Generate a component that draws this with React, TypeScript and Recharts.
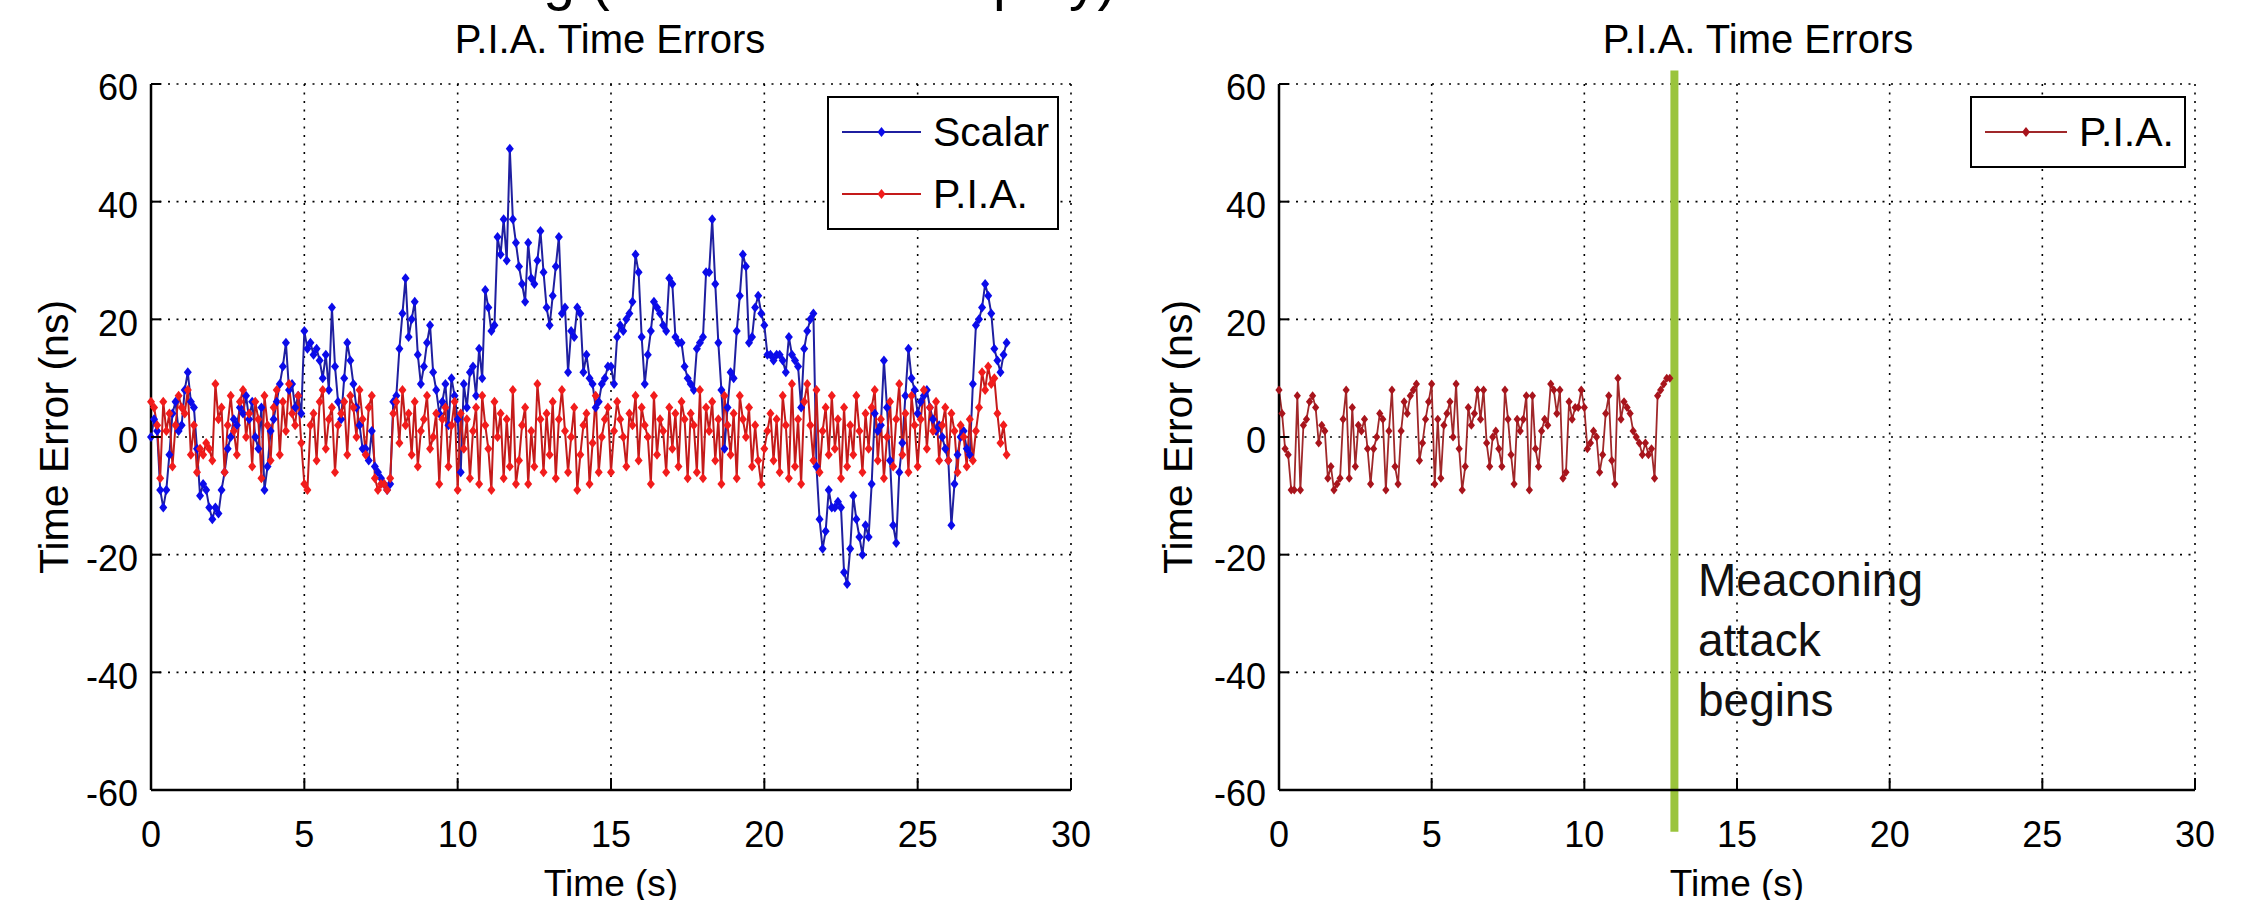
import React from 'react';
import { LineChart, Line, XAxis, YAxis, CartesianGrid, Legend, ReferenceLine } from 'recharts';

// sampling interval of the recorded time errors (s)
const SAMPLE_STEP = 0.1;

const X_TICKS = [0, 5, 10, 15, 20, 25, 30];
const Y_TICKS = [-60, -40, -20, 0, 20, 40, 60];

// left panel, scalar receiver time error (ns)
const scalarErr = [
  0, 3, 1, -9, -12, -9, -3, 4, 6, 1,
  2, 8, 11, 6, 5, -2, -10, -8, -9, -12,
  -14, -12, -13, -9, -6, -2, 0, 3, 2, 5,
  4, 7, 3, 6, 0, -2, 5, -9, -5, 1,
  3, 6, 9, 12, 16, 8, 9, 5, 7, 4,
  18, 15, 16, 14, 15, 13, 10, 14, 8, 22,
  12, 6, 3, 10, 16, 13, 9, 5, 2, -2,
  -2, -4, 1, -5, -6, -7, -8, -9, -8, 6,
  7, 15, 21, 27, 17, 20, 23, 14, 9, 12,
  16, 19, 11, 8, 4, 6, 9, 2, 10, 7,
  3, -6, 9, 5, 11, 12, 7, 15, 10, 25,
  22, 18, 19, 34, 31, 37, 30, 49, 37, 33,
  29, 26, 23, 33, 27, 26, 30, 35, 28, 22,
  19, 24, 29, 34, 21, 22, 11, 18, 17, 22,
  21, 11, 14, 10, 9, 5, 6, 9, 10, 12,
  12, 9, 17, 19, 18, 20, 21, 23, 31, 28,
  17, 9, 14, 18, 23, 22, 21, 19, 18, 27,
  26, 17, 16, 16, 12, 10, 9, 8, 15, 16,
  17, 28, 28, 37, 26, 16, 8, -2, 5, 11,
  10, 18, 24, 31, 29, 16, 17, 22, 24, 21,
  19, 14, 14, 13, 14, 14, 13, 11, 17, 14,
  13, 12, 5, 15, 18, 20, 21, -5, -14, -19,
  -16, -9, -12, -12, -11, -12, -23, -25, -19, -10,
  -14, -17, -20, -15, -17, -8, 4, 1, 2, 13,
  5, -4, -15, -18, -6, -1, 7, 15, 10, 8,
  4, 6, 7, 8, 5, 3, 1, 2, 0, -2,
  -4, -15, -8, -3, 0, 1, -2, -3, 9, 19,
  20, 22, 26, 24, 21, 15, 13, 11, 14, 16,
];

// left panel, P.I.A. time error (ns)
const piaErr = [
  6, 5, 2, -7, 6, 1, 4, -5, 2, 7,
  5, 4, 8, -3, 2, -6, -2, -3, -1, -2,
  -4, 9, 3, 5, -6, 2, 7, 1, -3, 6,
  8, 0, 4, -5, 6, 3, -7, 7, 2, -4,
  5, 8, -3, 6, 1, 9, 4, 2, 7, -1,
  -8, -9, 2, 4, -4, 6, 8, -2, 3, 5,
  -6, 2, 4, 6, -3, 7, 5, 0, 8, 3,
  -3, 5, 7, -7, -9, -8, -8, -9, -7, 4,
  6, -1, 8, 2, 4, -3, 6, -5, 1, 3,
  7, -2, 0, 4, -8, 3, 5, -5, 2, 6,
  -9, 4, -2, 3, -7, 1, 5, -8, 7, 2,
  -2, -9, 6, 0, 4, -7, 3, -5, 8, -8,
  -4, 2, 5, -8, 1, -5, 9, 3, -6, 4,
  -3, 6, -7, 3, 8, 1, -6, 0, 5, -9,
  -3, 2, 4, -8, -1, 7, -6, 0, 3, 5,
  -6, 1, 6, 3, 0, -5, 4, 2, 7, -4,
  5, 2, 0, -8, 7, -3, 3, 1, -6, 5,
  -2, 4, -5, 6, 3, -7, 4, 2, -6, 8,
  -7, 5, 1, 6, -4, 3, -8, 7, 2, -3,
  4, -7, 7, 3, 0, 5, -5, 2, -4, -8,
  -2, 1, 4, -4, 3, -6, 7, 2, -7, 9,
  -5, 3, -8, 6, 9, 2, -4, 8, -6, 1,
  5, -3, 7, -2, 3, -7, 5, -5, 2, -3,
  7, 1, -6, 4, -2, 5, 8, -4, 3, -7,
  0, 6, -5, 3, 9, -3, 4, -6, 7, 2,
  -5, 3, 8, -2, 5, 1, 6, -4, 2, 5,
  -4, 4, 1, -6, 2, 0, -5, 3, -4, 1,
  5, 11, 8, 12, 9, 10, 4, -1, 2, -3,
];

// right panel, P.I.A. time error until the attack (ns)
const piaErrAttack = [
  8, 4, -2, -3, -9, -9, 7, -9, 2, 3,
  6, 7, 5, -1, 2, 1, -7, -5, -9, -8,
  -7, 3, 8, -7, 5, -5, 2, 1, 3, -2,
  -8, -2, 0, 4, 3, -9, 1, 8, -5, -8,
  1, 6, 4, 7, 8, 9, -4, -1, 3, 6,
  9, -8, 3, -7, 2, 4, 6, 0, 9, -2,
  -9, -5, 5, 2, 4, 8, 3, 8, -1, -5,
  0, 1, -2, -5, 8, 3, -3, -8, 3, 1,
  3, 7, -9, 7, -2, -5, 1, 3, 2, 9,
  8, 4, 8, -7, -6, 6, 3, 5, 5, 8,
  5, -2, -1, 1, 0, -6, -3, 4, 7, -4,
  -8, 10, 3, 6, 5, 4, 1, 0, -1, -3,
  -1, -3, -2, -7, 7, 8, 9, 10, 10,
];

const ATTACK_TIME = 12.95;
const ATTACK_LINE_SPAN = [62.3, -67.1];

const leftData = scalarErr.map((v, i) => ({
  t: Math.round(i * SAMPLE_STEP * 10) / 10,
  scalar: v,
  pia: piaErr[i],
}));
const rightData = piaErrAttack.map((v, i) => ({
  t: Math.round(i * SAMPLE_STEP * 10) / 10,
  pia: v,
}));

const FONT = '"Liberation Sans", Arial, Helvetica, sans-serif';
const W = 2246;
const H = 900;
const PANEL_W = 1123;
const TOP = 84;
const X_AXIS_H = 110;

const diamond = (fill: string, r = 5) => (props: any) => {
  const { cx, cy, index } = props;
  if (cx == null || cy == null) return <g key={`e-${index}`} />;
  return (
    <path
      key={`m-${index}`}
      d={`M${cx},${cy - r}L${cx + r * 0.8},${cy}L${cx},${cy + r}L${cx - r * 0.8},${cy}Z`}
      fill={fill}
    />
  );
};

const renderXTick = (props: any) => {
  const { x, y, payload, index } = props;
  return (
    <g key={`xt-${index}`}>
      <line x1={x} y1={y} x2={x} y2={y - 12} stroke="#000" strokeWidth={2} />
      <text x={x} y={y + 57} textAnchor="middle" fontSize={36} fontFamily={FONT} fill="#000">
        {payload.value}
      </text>
    </g>
  );
};

const renderYTick = (props: any) => {
  const { x, y, payload, index } = props;
  return (
    <g key={`yt-${index}`}>
      <line x1={x} y1={y} x2={x + 10} y2={y} stroke="#000" strokeWidth={2} />
      <text x={x - 13} y={y} dy="0.45em" textAnchor="end" fontSize={36} fontFamily={FONT} fill="#000">
        {payload.value}
      </text>
    </g>
  );
};

type Item = { name: string; line: string; marker: string };

const legendContent = (items: Item[], w: number, rowH: number, padTop: number, lineLen: number) => () => (
  <div
    style={{
      width: w,
      boxSizing: 'border-box',
      border: '2px solid #000',
      background: '#fff',
      paddingTop: padTop,
      paddingBottom: padTop,
      fontFamily: FONT,
    }}
  >
    {items.map((it) => (
      <div key={it.name} style={{ display: 'flex', alignItems: 'center', height: rowH }}>
        <svg width={lineLen + 12} height={20} style={{ marginLeft: 13 }}>
          <line x1={0} y1={10} x2={lineLen} y2={10} stroke={it.line} strokeWidth={2} />
          <path d={`M${lineLen / 2},5L${lineLen / 2 + 4},10L${lineLen / 2},15L${lineLen / 2 - 4},10Z`} fill={it.marker} />
        </svg>
        <span style={{ fontSize: 41, color: '#000', lineHeight: 1 }}>{it.name}</span>
      </div>
    ))}
  </div>
);

const leftItems: Item[] = [
  { name: 'Scalar', line: '#1f1fa0', marker: '#0b0bea' },
  { name: 'P.I.A.', line: '#c41a1a', marker: '#f21c1c' },
];
const rightItems: Item[] = [{ name: 'P.I.A.', line: '#a0282a', marker: '#a8141c' }];

const axisLine = { stroke: '#000', strokeWidth: 2.5 };

const axes = (yWidth: number) => [
  <XAxis
    key="x"
    dataKey="t"
    type="number"
    domain={[0, 30]}
    ticks={X_TICKS}
    height={X_AXIS_H}
    tickSize={0}
    tickMargin={0}
    tickLine={false}
    axisLine={axisLine}
    tick={renderXTick}
    interval={0}
  />,
  <YAxis
    key="y"
    type="number"
    domain={[-60, 60]}
    ticks={Y_TICKS}
    width={yWidth}
    tickSize={0}
    tickMargin={0}
    tickLine={false}
    axisLine={axisLine}
    tick={renderYTick}
    interval={0}
  />,
];

export default function App() {
  return (
    <div style={{ position: 'absolute', left: 0, top: 0, width: W, height: H, background: '#fff', overflow: 'hidden' }}>
      <div style={{ position: 'absolute', left: 0, top: 0 }}>
        <LineChart width={PANEL_W} height={H} data={leftData} margin={{ top: TOP, right: 52, bottom: 0, left: 0 }}>
          <CartesianGrid stroke="#000" strokeWidth={1.6} strokeDasharray="2 6.5" />
          {axes(151)}
          <Legend
            layout="horizontal"
            verticalAlign="middle"
            align="center"
            wrapperStyle={{ left: 827, top: 96, width: 232 }}
            content={legendContent(leftItems, 232, 62, 3, 79)}
          />
          <Line
            dataKey="scalar"
            name="Scalar"
            type="linear"
            stroke={leftItems[0].line}
            strokeWidth={2}
            dot={diamond(leftItems[0].marker)}
            activeDot={false}
            isAnimationActive={false}
          />
          <Line
            dataKey="pia"
            name="P.I.A."
            type="linear"
            stroke={leftItems[1].line}
            strokeWidth={2}
            dot={diamond(leftItems[1].marker)}
            activeDot={false}
            isAnimationActive={false}
          />
        </LineChart>
      </div>

      <div style={{ position: 'absolute', left: PANEL_W, top: 0 }}>
        <LineChart width={PANEL_W} height={H} data={rightData} margin={{ top: TOP, right: 51, bottom: 0, left: 0 }}>
          <CartesianGrid stroke="#000" strokeWidth={1.6} strokeDasharray="2 6.5" />
          {axes(156)}
          <Legend
            layout="horizontal"
            verticalAlign="middle"
            align="center"
            wrapperStyle={{ left: 847, top: 96, width: 216 }}
            content={legendContent(rightItems, 216, 66, 1, 82)}
          />
          <Line
            dataKey="pia"
            name="P.I.A."
            type="linear"
            stroke={rightItems[0].line}
            strokeWidth={1.8}
            dot={diamond(rightItems[0].marker, 4.5)}
            activeDot={false}
            isAnimationActive={false}
          />
          <ReferenceLine
            segment={[
              { x: ATTACK_TIME, y: ATTACK_LINE_SPAN[0] },
              { x: ATTACK_TIME, y: ATTACK_LINE_SPAN[1] },
            ]}
            ifOverflow="visible"
            stroke="#9ac43c"
            strokeWidth={8}
          />
        </LineChart>
      </div>

      <svg width={W} height={H} style={{ position: 'absolute', left: 0, top: 0, pointerEvents: 'none' }} fontFamily={FONT}>
        <text x={296} y={-1} fontSize={57} fill="#000">Meaconing (Record and Replay)</text>
        <text x={610} y={53} fontSize={40} textAnchor="middle" fill="#000">P.I.A. Time Errors</text>
        <text x={1758} y={53} fontSize={40} textAnchor="middle" fill="#000">P.I.A. Time Errors</text>
        <text x={54} y={437} fontSize={41} textAnchor="middle" dy="0.35em" transform="rotate(-90 54 437)" fill="#000">
          Time Error (ns)
        </text>
        <text x={1178} y={437} fontSize={41} textAnchor="middle" dy="0.35em" transform="rotate(-90 1178 437)" fill="#000">
          Time Error (ns)
        </text>
        <text x={611} y={896} fontSize={37} textAnchor="middle" fill="#000">Time (s)</text>
        <text x={1737} y={896} fontSize={37} textAnchor="middle" fill="#000">Time (s)</text>
        <text x={1698} y={596} fontSize={46} fill="#111">Meaconing</text>
        <text x={1698} y={656} fontSize={46} fill="#111">attack</text>
        <text x={1698} y={716} fontSize={46} fill="#111">begins</text>
      </svg>
    </div>
  );
}
